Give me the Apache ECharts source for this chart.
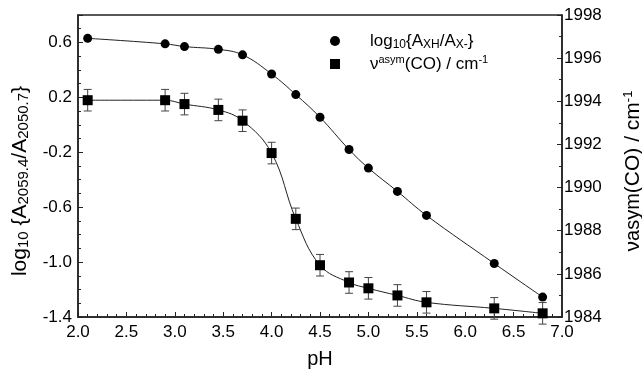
<!DOCTYPE html>
<html><head><meta charset="utf-8">
<script src="https://cdn.jsdelivr.net/npm/echarts@6/dist/echarts.min.js"></script>
<style>html,body{margin:0;padding:0;background:#fff}#c{width:642px;height:375px}</style>
</head><body><div id="c"></div>
<script>
// pH values
const phCircle = [2.1, 2.9, 3.1, 3.45, 3.7, 4.0, 4.25, 4.5, 4.8, 5.0, 5.3, 5.6, 6.3, 6.8];
const logRatio = [0.63, 0.59, 0.57, 0.55, 0.51, 0.37, 0.22, 0.055, -0.18, -0.315, -0.485, -0.66, -1.01, -1.255];
const phSquare = [2.1, 2.9, 3.1, 3.45, 3.7, 4.0, 4.25, 4.5, 4.8, 5.0, 5.3, 5.6, 6.3, 6.8];
const nuAsym = [1994.05, 1994.05, 1993.87, 1993.6, 1993.1, 1991.6, 1988.55, 1986.4, 1985.6, 1985.33, 1985.0, 1984.68, 1984.4, 1984.17];
const nuErr = [0.5, 0.5, 0.5, 0.5, 0.5, 0.5, 0.5, 0.5, 0.5, 0.5, 0.5, 0.5, 0.5, 0.5];
const xTicks = {min: 2.0, max: 7.0, interval: 0.5};
const leftTicks = {min: -1.4, max: 0.8, interval: 0.4};
const rightTicks = {min: 1984, max: 1998, interval: 2};
const nameCircle = 'log10{AXH/AX-}';
const nameSquare = 'νasym(CO) / cm-1';

const FONT = 'Liberation Sans, Arial, sans-serif';
const chart = echarts.init(document.getElementById('c'));
const sub = {fontSize: 12, verticalAlign: 'bottom', fontFamily: FONT, color: '#000'};
const sup = {fontSize: 11, verticalAlign: 'top', fontFamily: FONT, color: '#000'};

const circleData = phCircle.map((x, i) => [x, logRatio[i]]);
const squareData = phSquare.map((x, i) => [x, nuAsym[i]]);
const errData = phSquare.map((x, i) => [x, nuAsym[i] - nuErr[i], nuAsym[i] + nuErr[i]]);

chart.setOption({
  animation: false,
  backgroundColor: '#fff',
  grid: {left: 78, right: 80, top: 15, bottom: 58, show: true, borderColor: '#222', borderWidth: 1.5,
    containLabel: false, outerBoundsMode: 'none'},
  legend: {
    orient: 'vertical', left: 325, top: 26, itemGap: 3, itemWidth: 10, itemHeight: 10,
    data: [{name: nameCircle, icon: 'circle'}, {name: nameSquare, icon: 'rect'}],
    formatter: function (n) {
      if (n === nameCircle) return '{g|}log{s|10}{A{s|XH}/A{s|X-}}';
      return '{g|}ν{p|asym}(CO) / cm{p|-1}';
    },
    textStyle: {fontSize: 17, fontFamily: FONT, color: '#000', lineHeight: 20,
      rich: {g: {width: 25}, s: sub, p: sup}}
  },
  xAxis: {
    type: 'value', min: xTicks.min, max: xTicks.max, interval: xTicks.interval,
    name: 'pH', nameLocation: 'middle', nameGap: 32,
    nameTextStyle: {fontSize: 20, fontFamily: FONT, color: '#000'},
    axisLine: {onZero: false, lineStyle: {color: '#222', width: 1.5}},
    axisTick: {inside: true, length: 5, lineStyle: {color: '#222'}},
    minorTick: {show: true, splitNumber: 5, length: 3, lineStyle: {color: '#222'}},
    axisLabel: {fontSize: 17, fontFamily: FONT, color: '#000', margin: 7, formatter: v => v.toFixed(1)},
    splitLine: {show: false}
  },
  yAxis: [{
    type: 'value', min: leftTicks.min, max: leftTicks.max, interval: leftTicks.interval,
    name: 'log{s|10} {A{s|2059.4}/A{s|2050.7}}', nameLocation: 'middle', nameGap: 46, nameRotate: 90,
    nameTextStyle: {fontSize: 21, fontFamily: FONT, color: '#000', lineHeight: 24, padding: [0, 30, 0, 0],
      rich: {s: {fontSize: 15, verticalAlign: 'bottom', fontFamily: FONT, color: '#000'}}},
    axisLine: {show: true, onZero: false, lineStyle: {color: '#222', width: 1.5}},
    axisTick: {inside: true, length: 5, lineStyle: {color: '#222'}},
    minorTick: {show: true, splitNumber: 4, length: 3, lineStyle: {color: '#222'}},
    axisLabel: {fontSize: 17, fontFamily: FONT, color: '#000', margin: 6, showMaxLabel: false, formatter: v => v.toFixed(1)},
    splitLine: {show: false}
  }, {
    type: 'value', position: 'right', min: rightTicks.min, max: rightTicks.max, interval: rightTicks.interval,
    name: 'ν{a|asym}(CO) / cm{p|-1}', nameLocation: 'middle', nameGap: 60, nameRotate: 90,
    nameTextStyle: {fontSize: 21, fontFamily: FONT, color: '#000', lineHeight: 22, padding: [0, 10, 0, 0],
      rich: {a: {fontSize: 20, verticalAlign: 'middle', fontFamily: FONT, color: '#000'},
             p: {fontSize: 13, verticalAlign: 'top', fontFamily: FONT, color: '#000'}}},
    axisLine: {show: true, onZero: false, lineStyle: {color: '#222', width: 1.5}},
    axisTick: {inside: true, length: 5, lineStyle: {color: '#222'}},
    minorTick: {show: true, splitNumber: 2, length: 3, lineStyle: {color: '#222'}},
    axisLabel: {fontSize: 17, fontFamily: FONT, color: '#000', margin: 2, formatter: v => String(v)},
    splitLine: {show: false}
  }],
  series: [{
    name: nameCircle, type: 'line', yAxisIndex: 0, data: circleData, smooth: 0.4,
    symbol: 'circle', symbolSize: 9, itemStyle: {color: '#000'},
    lineStyle: {color: '#222', width: 1}
  }, {
    name: nameSquare, type: 'line', yAxisIndex: 1, data: squareData, smooth: 0.4,
    symbol: 'rect', symbolSize: 10, itemStyle: {color: '#000'},
    lineStyle: {color: '#222', width: 1}, z: 3
  }, {
    type: 'custom', yAxisIndex: 1, data: errData, z: 2,
    renderItem: function (params, api) {
      const x = api.coord([api.value(0), api.value(1)]);
      const top = api.coord([api.value(0), api.value(2)]);
      const w = 4;
      const st = {stroke: '#444', lineWidth: 1};
      return {type: 'group', children: [
        {type: 'line', shape: {x1: x[0], y1: x[1], x2: top[0], y2: top[1]}, style: st},
        {type: 'line', shape: {x1: x[0] - w, y1: x[1], x2: x[0] + w, y2: x[1]}, style: st},
        {type: 'line', shape: {x1: top[0] - w, y1: top[1], x2: top[0] + w, y2: top[1]}, style: st}
      ]};
    }
  }]
});
</script></body></html>
